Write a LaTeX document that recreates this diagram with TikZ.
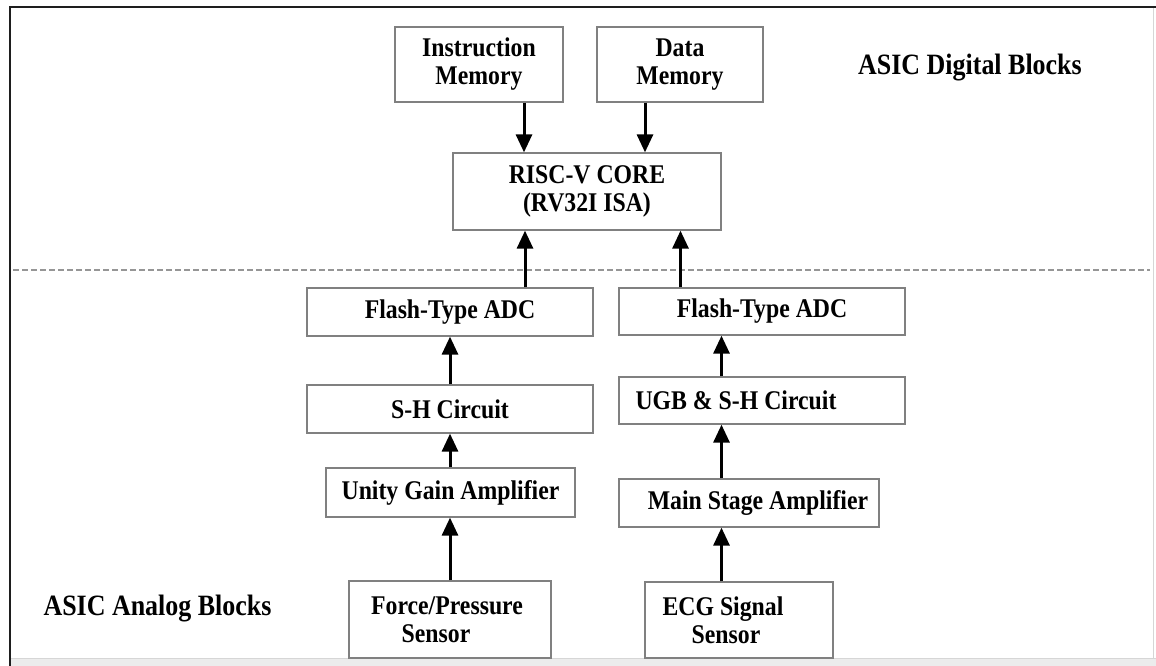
\documentclass[tikz,border=0pt]{standalone}
\usepackage{fontspec}
\setmainfont[FakeStretch=0.88]{Liberation Serif}
\usetikzlibrary{arrows.meta}

\definecolor{boxgray}{RGB}{128,128,128}
\definecolor{framecol}{RGB}{30,30,30}
\definecolor{dashgray}{RGB}{150,150,150}
\definecolor{bandgray}{RGB}{236,236,236}
\definecolor{edgegray}{RGB}{214,214,214}

\begin{document}
\begin{tikzpicture}[x=1pt,y=-1pt,
  block/.style={draw=boxgray, line width=1.3pt, fill=white, inner sep=0pt,
                align=center, font=\bfseries\fontsize{27}{28}\selectfont},
  region/.style={inner sep=0pt, font=\bfseries\fontsize{29.5}{31}\selectfont},
  flow/.style={line width=3pt, -{Triangle[length=18pt,width=16pt]}},
  separator/.style={draw=dashgray, line width=1.5pt, dash pattern=on 6pt off 3pt}
]
\useasboundingbox (0,0) rectangle (1156,666);

% page frame and bottom band
\fill[bandgray] (11,658) rectangle (1156,666);
\draw[edgegray, line width=1pt] (11,658) -- (1156,658);
\draw[edgegray, line width=1pt] (1153,7) -- (1153,658);
\draw[framecol, line width=2pt] (10,666) -- (10,7) -- (1156,7);

% digital / analog boundary
\draw[separator] (13,270) -- (1150,270);

% digital blocks
\node[block, minimum width=168pt, minimum height=75pt] (imem) at (479,64.5) {Instruction\\Memory};
\node[block, minimum width=166pt, minimum height=75pt] (dmem) at (680,64.5) {Data\\Memory};
\node[block, minimum width=268pt, minimum height=77pt] (core) at (587,191.5) {RISC-V CORE\\(RV32I ISA)};

% analog chain: force / pressure
\node[block, minimum width=286pt, minimum height=48pt] (adcL) at (450,312) {Flash-Type ADC};
\node[block, minimum width=286pt, minimum height=48pt] (shL) at (450,409) {S-H Circuit};
\node[block, minimum width=249pt, minimum height=49pt] (ugaL) at (450.5,492.5) {Unity Gain Amplifier};
\node[block, minimum width=202pt, minimum height=77pt] (fps) at (450,619.5) {\hspace*{-6pt}Force/Pressure\\\hspace*{-28pt}Sensor};

% analog chain: ECG
\node[block, minimum width=286pt, minimum height=47pt] (adcR) at (762,311.5) {Flash-Type ADC};
\node[block, minimum width=286pt, minimum height=47pt] (ugbR) at (762,400.5) {\hspace*{-52pt}UGB \& S-H Circuit};
\node[block, minimum width=260pt, minimum height=48pt] (msaR) at (749,503) {\hspace*{18pt}Main Stage Amplifier};
\node[block, minimum width=188pt, minimum height=76pt] (ecg) at (739,620) {\hspace*{-32pt}ECG Signal\\\hspace*{-26pt}Sensor};

% region labels
\node[region] (dig) at (970,68) {ASIC Digital Blocks};
\node[region] (ana) at (157.5,609) {ASIC Analog Blocks};

% connector columns
\coordinate (xi) at (524,0);
\coordinate (xd) at (645,0);
\coordinate (xl) at (525,0);
\coordinate (xr) at (680.5,0);
\coordinate (xe) at (721.5,0);

% memories to core
\draw[flow] (imem.south -| xi) -- (core.north -| xi);
\draw[flow] (dmem.south -| xd) -- (core.north -| xd);

% ADCs to core
\draw[flow] (adcL.north -| xl) -- (core.south -| xl);
\draw[flow] (adcR.north -| xr) -- (core.south -| xr);

% force / pressure chain
\draw[flow] (shL.north) -- (adcL.south);
\draw[flow] (ugaL.north -| shL) -- (shL.south);
\draw[flow] (fps.north) -- (ugaL.south -| fps);

% ECG chain
\draw[flow] (ugbR.north -| xe) -- (adcR.south -| xe);
\draw[flow] (msaR.north -| xe) -- (ugbR.south -| xe);
\draw[flow] (ecg.north -| xe) -- (msaR.south -| xe);
\end{tikzpicture}
\end{document}
